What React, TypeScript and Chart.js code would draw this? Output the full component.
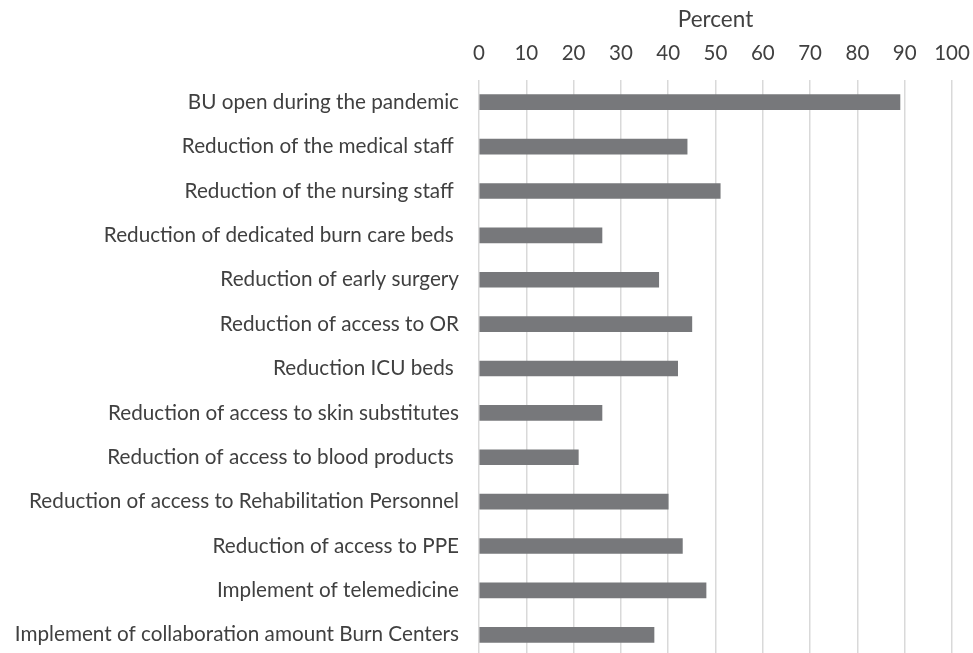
import React, { useEffect, useRef } from "react";
import { Chart, registerables } from "chart.js";

Chart.register(...registerables);

const categories = [
  "BU open during the pandemic",
  "Reduction of the medical staff ",
  "Reduction of the nursing staff ",
  "Reduction of dedicated burn care beds ",
  "Reduction of early surgery",
  "Reduction of access to OR",
  "Reduction ICU beds ",
  "Reduction of access to skin substitutes",
  "Reduction of access to blood products ",
  "Reduction of access to Rehabilitation Personnel",
  "Reduction of access to PPE",
  "Implement of telemedicine",
  "Implement of collaboration amount Burn Centers",
];

const percentValues = [89, 44, 51, 26, 38, 45, 42, 26, 21, 40, 43, 48, 37];

const axisTitle = "Percent";

export default function App() {
  const ref = useRef<HTMLCanvasElement>(null);
  useEffect(() => {
    if (!ref.current) return;
    const chart = new Chart(ref.current, {
      type: "bar",
      data: {
        labels: categories,
        datasets: [
          {
            data: percentValues,
            backgroundColor: "#77787b",
            borderWidth: 0,
            barThickness: 15,
          },
        ],
      },
      options: {
        indexAxis: "y",
        animation: false,
        responsive: false,
        layout: { padding: { left: 0, right: 21, top: 0, bottom: 0 } },
        plugins: { legend: { display: false }, tooltip: { enabled: false } },
        scales: {
          x: {
            position: "top",
            min: 0,
            max: 100,
            ticks: {
              stepSize: 10,
              color: "#404040",
              font: { family: "Lato", size: 20.5 },
              padding: 14,
              maxRotation: 0,
            },
            grid: { color: "#d9d9d9", lineWidth: 1.5, drawTicks: false },
            border: { display: false },
            title: {
              display: true,
              text: axisTitle,
              color: "#404040",
              font: { family: "Lato", size: 22.5 },
              padding: { top: 6, bottom: 0 },
            },
            afterFit: (scale: any) => {
              scale.height = 80;
              scale.paddingLeft = 0;
              scale.paddingRight = 0;
            },
          },
          y: {
            ticks: {
              color: "#404040",
              font: { family: "Lato", size: 20.7 },
              padding: 20,
              autoSkip: false,
            },
            grid: { display: false, drawTicks: false },
            border: { display: false },
            afterFit: (scale: any) => {
              scale.width = 479;
              scale.paddingTop = 0;
              scale.paddingBottom = 0;
            },
          },
        },
      },
    });
    return () => chart.destroy();
  }, []);
  return (
    <div
      style={{
        position: "absolute",
        left: 0,
        top: 0,
        width: 973,
        height: 653,
        overflow: "hidden",
        background: "#fff",
      }}
    >
      <canvas ref={ref} width={973} height={657} style={{ display: "block" }} />
    </div>
  );
}
